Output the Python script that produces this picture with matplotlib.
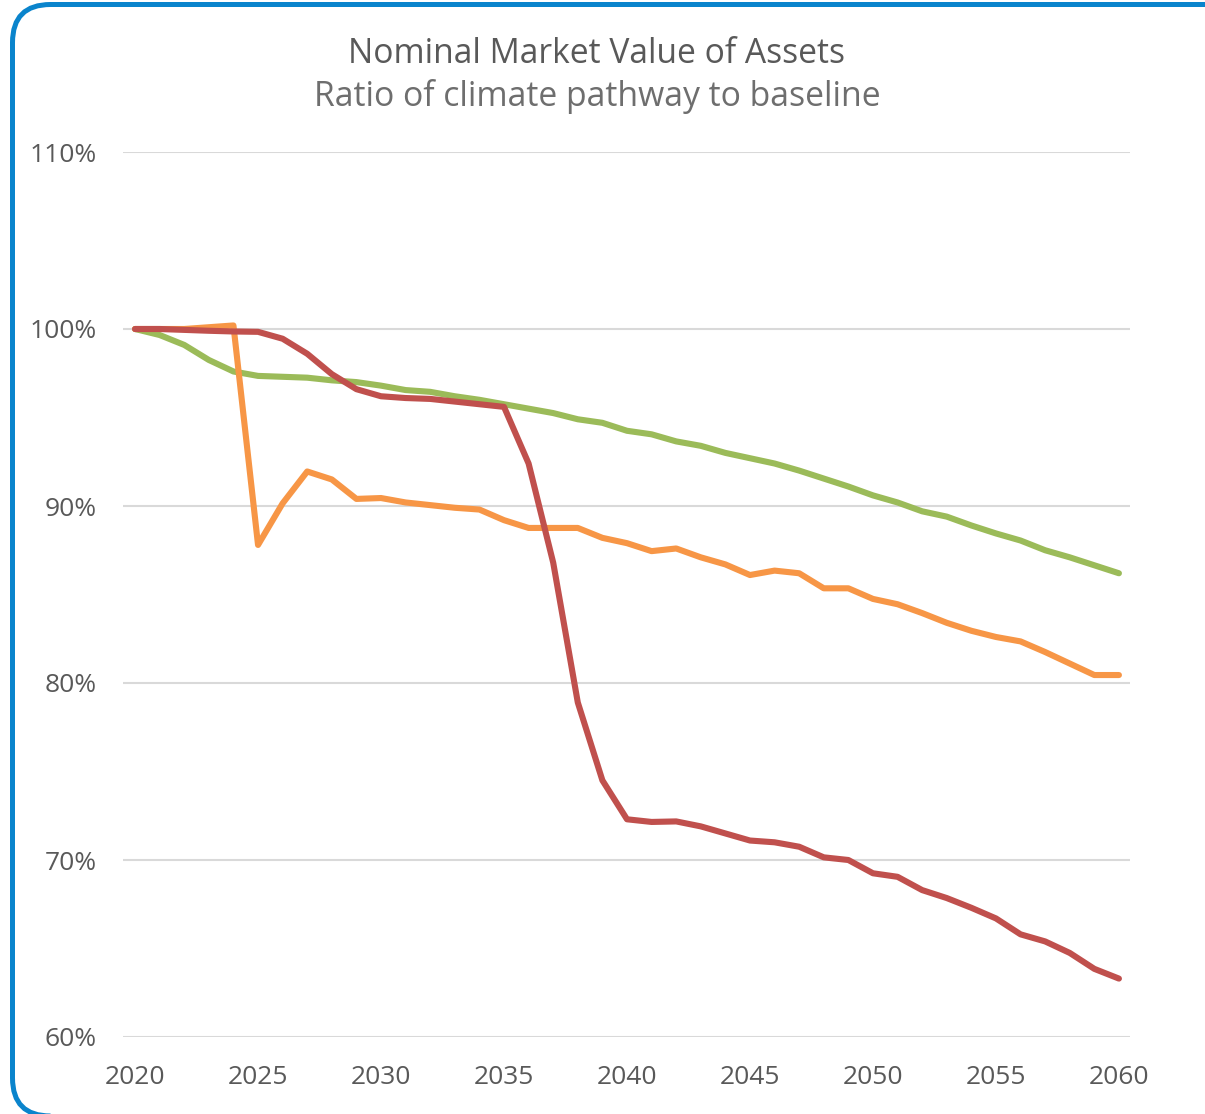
import matplotlib
matplotlib.use('Agg')
import matplotlib.pyplot as plt
from matplotlib.patches import FancyBboxPatch
from matplotlib.transforms import IdentityTransform
from matplotlib.ticker import FuncFormatter

years = list(range(2020, 2061))

green = [100.0, 99.66, 99.1, 98.25, 97.6, 97.35, 97.3, 97.25, 97.1, 97.0,
         96.8, 96.55, 96.45, 96.2, 96.0, 95.75, 95.5, 95.25, 94.9, 94.7,
         94.25, 94.05, 93.65, 93.4, 93.0, 92.7, 92.4, 92.0, 91.55, 91.1,
         90.6, 90.2, 89.7, 89.4, 88.9, 88.45, 88.05, 87.5, 87.1, 86.65, 86.2]

orange = [100.0, 100.0, 100.0, 100.1, 100.2, 87.8, 90.15, 91.95, 91.5, 90.4,
          90.45, 90.2, 90.05, 89.9, 89.8, 89.2, 88.76, 88.76, 88.76, 88.2,
          87.9, 87.45, 87.6, 87.1, 86.7, 86.1, 86.35, 86.2, 85.35, 85.35,
          84.75, 84.45, 83.95, 83.4, 82.95, 82.6, 82.35, 81.75, 81.1, 80.45, 80.45]

red = [100.0, 100.0, 99.95, 99.9, 99.86, 99.84, 99.45, 98.6, 97.45, 96.6,
       96.2, 96.1, 96.05, 95.9, 95.75, 95.6, 92.4, 86.8, 78.9, 74.5,
       72.3, 72.15, 72.18, 71.9, 71.5, 71.1, 71.0, 70.75, 70.15, 70.0,
       69.25, 69.05, 68.3, 67.85, 67.3, 66.7, 65.8, 65.4, 64.75, 63.85, 63.3]

plt.rcParams['font.family'] = ['Open Sans', 'DejaVu Sans']

fig = plt.figure(figsize=(12.05, 11.14), dpi=100)
ax = fig.add_axes([123 / 1205, 1 - 1037 / 1114, (1130 - 123) / 1205, (1037 - 152) / 1114])

for vals, color in [(green, '#9BBB59'), (orange, '#F79646'), (red, '#C0504D')]:
    ax.plot(years, vals, color=color, lw=4.4, solid_joinstyle='round',
            solid_capstyle='round', clip_on=False)

ax.set_xlim(2019.51, 2060.45)
ax.set_ylim(60, 110)
ax.set_xticks(range(2020, 2061, 5))
ax.set_yticks(range(60, 111, 10))
ax.yaxis.set_major_formatter(FuncFormatter(lambda v, p: f'{v:.0f}%'))
ax.grid(axis='y', color='#D9D9D9', lw=1.5)
ax.set_axisbelow(True)
for s in ax.spines.values():
    s.set_visible(False)
ax.tick_params(length=0, labelsize=19, labelcolor='#595959')
ax.tick_params(axis='y', pad=19)
ax.tick_params(axis='x', pad=20)

fig.text(597 / 1205, 1 - 54 / 1114, 'Nominal Market Value of Assets', ha='center',
         va='center', fontsize=24.2, color='#595959')
fig.text(597 / 1205, 1 - 96 / 1114, 'Ratio of climate pathway to baseline', ha='center',
         va='center', fontsize=24.3, color='#6E6E6E')

# rounded frame, drawn in pixel coordinates
border = FancyBboxPatch((12.5, -2), 1400, 1114 - 4.5 + 2,
                        boxstyle='round,pad=0,rounding_size=38',
                        transform=IdentityTransform(), fill=False,
                        ec='#0A84CC', lw=3.6)
fig.patches.append(border)

fig.savefig('out.png', dpi=100)
